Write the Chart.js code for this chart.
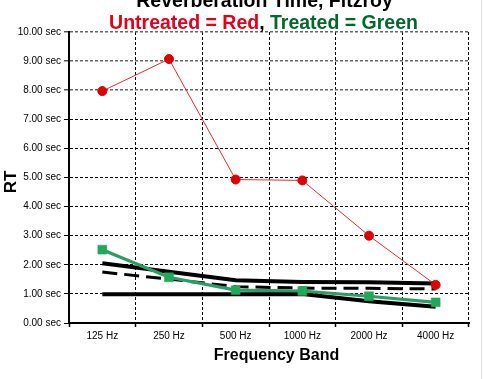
<!DOCTYPE html>
<html>
<head>
<meta charset="utf-8">
<script src="https://cdn.jsdelivr.net/npm/chart.js@4/dist/chart.umd.min.js"></script>
<style>
html,body{margin:0;padding:0;background:#fff;}
canvas{display:block;}
</style>
</head>
<body>
<canvas id="c" width="483" height="379"></canvas>
<script>
const categories = ['125 Hz', '250 Hz', '500 Hz', '1000 Hz', '2000 Hz', '4000 Hz'];
const untreated = [7.97, 9.07, 4.93, 4.90, 3.00, 1.31];
const treated = [2.52, 1.57, 1.13, 1.10, 0.92, 0.71];
const upperLimit = [2.05, 1.76, 1.47, 1.41, 1.40, 1.36];
const midLimit = [1.75, 1.51, 1.25, 1.20, 1.19, 1.17];
const lowerLimit = [0.99, 0.99, 0.99, 1.00, 0.75, 0.56];
const yTicks = [0,1,2,3,4,5,6,7,8,9,10];

const FONT = 'Arial, "Liberation Sans", sans-serif';
Chart.defaults.font.family = FONT;

const textPlugin = {
  id: 'texts',
  afterDraw(chart) {
    const ctx = chart.ctx;
    ctx.save();
    ctx.fillStyle = '#000';
    ctx.textBaseline = 'alphabetic';
    ctx.textAlign = 'center';
    ctx.font = 'bold 19.5px ' + FONT;
    ctx.fillText('Reverberation Time, Fitzroy', 264.5, 7);
    const parts = [['Untreated = Red', '#e3001b'], [', ', '#000'], ['Treated = Green', '#006a2a']];
    let total = 0;
    parts.forEach(p => total += ctx.measureText(p[0]).width);
    let x = 263.5 - total / 2;
    ctx.textAlign = 'left';
    parts.forEach(p => { ctx.fillStyle = p[1]; ctx.fillText(p[0], x, 29); x += ctx.measureText(p[0]).width; });
    ctx.fillStyle = '#000';
    ctx.textAlign = 'center';
    ctx.textBaseline = 'middle';
    ctx.font = 'bold 16px ' + FONT;
    ctx.fillText('Frequency Band', 276.5, 356);
    ctx.save();
    ctx.translate(11.5, 182);
    ctx.rotate(-Math.PI / 2);
    ctx.font = 'bold 17px ' + FONT;
    ctx.fillText('RT', 0, 0);
    ctx.restore();
    ctx.strokeStyle = '#e2e2e2';
    ctx.lineWidth = 1;
    ctx.beginPath();
    ctx.moveTo(481.5, 0);
    ctx.lineTo(481.5, 379);
    ctx.stroke();
    ctx.restore();
  }
};

new Chart(document.getElementById('c'), {
  type: 'line',
  data: {
    labels: categories,
    datasets: [
      {
        label: 'Untreated', data: untreated, order: 0,
        borderColor: '#ee2a2a', borderWidth: 1,
        pointStyle: 'circle', pointRadius: 4.5, pointBackgroundColor: '#e00000', pointBorderColor: '#e00000', pointBorderWidth: 1
      },
      {
        label: 'Treated', data: treated, order: 1,
        borderColor: '#2a9e64', borderWidth: 3.2,
        pointStyle: 'rect', pointRadius: 6.3, pointBackgroundColor: '#22a85a', pointBorderColor: '#22a85a', pointBorderWidth: 0.5
      },
      {
        label: 'Upper', data: upperLimit, order: 2,
        borderColor: '#000', borderWidth: 4, pointRadius: 0
      },
      {
        label: 'Mid', data: midLimit, order: 3,
        borderColor: '#000', borderWidth: 3, borderDash: [15, 7], pointRadius: 0
      },
      {
        label: 'Lower', data: lowerLimit, order: 4,
        borderColor: '#000', borderWidth: 4, pointRadius: 0
      }
    ]
  },
  options: {
    responsive: false,
    animation: false,
    events: [],
    layout: { padding: { top: 32, right: 14, left: 0, bottom: 0 } },
    plugins: { legend: { display: false }, tooltip: { enabled: false }, title: { display: false } },
    elements: { line: { tension: 0 } },
    scales: {
      x: {
        type: 'category',
        offset: true,
        grid: { offset: true, color: '#000', lineWidth: 1, tickLength: 4, tickColor: '#000', tickWidth: 1.5 },
        border: { display: true, color: '#000', width: 2, dash: [3, 2] },
        ticks: { color: '#000', font: { size: 10 }, padding: 3, maxRotation: 0, autoSkip: false },
        afterFit(scale) { scale.height = 56; }
      },
      y: {
        min: 0, max: 10,
        afterBuildTicks(scale) { scale.ticks = yTicks.map(v => ({ value: v })); },
        grid: {
          color: ctx => (ctx.tick && ctx.tick.value >= 8) ? '#666' : '#000',
          lineWidth: ctx => (ctx.tick && ctx.tick.value >= 8) ? 1.6 : 1,
          tickLength: 5, tickColor: '#000', tickWidth: 1
        },
        border: { display: true, color: '#000', width: 2, dash: [3, 2] },
        ticks: { color: '#000', font: { size: 10 }, padding: 3, callback: v => Number(v).toFixed(2) + ' sec' },
        afterFit(scale) { scale.width = 69; }
      }
    }
  },
  plugins: [textPlugin]
});
</script>
</body>
</html>
